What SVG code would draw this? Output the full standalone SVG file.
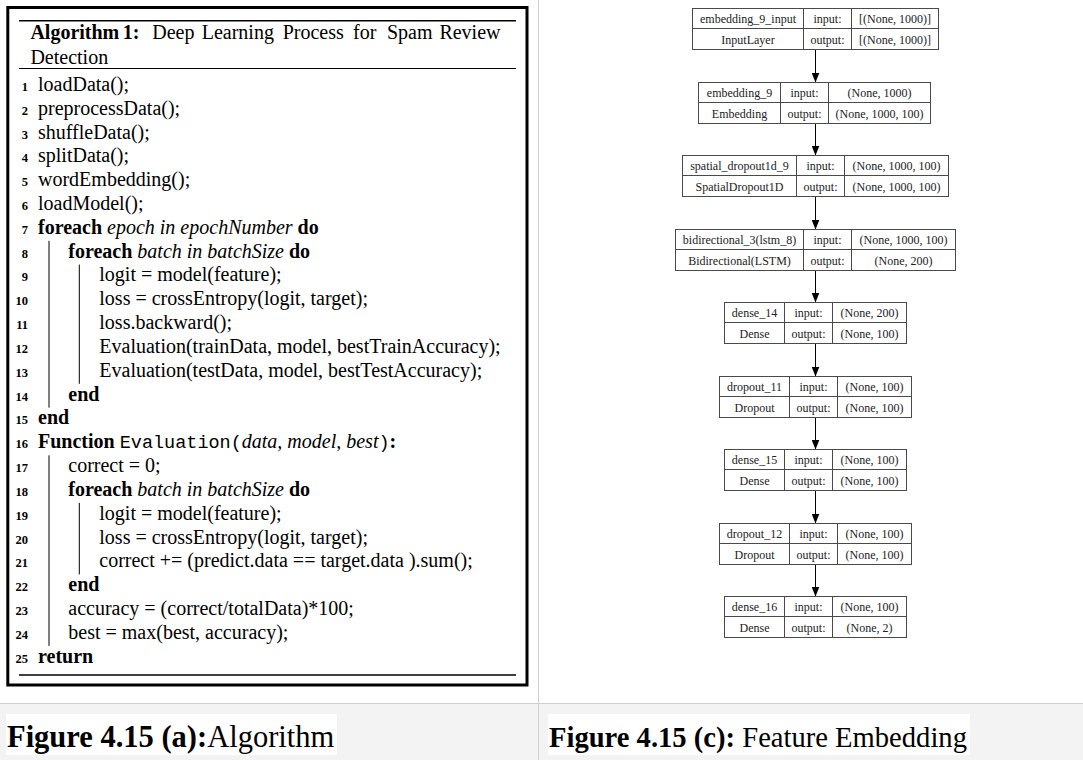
<svg xmlns="http://www.w3.org/2000/svg" width="1083" height="760" viewBox="0 0 1083 760">
  <style>
    .alg { font-family: "Liberation Serif", "Times New Roman", serif; font-size: 20px; fill: #000; }
    .b { font-weight: bold; }
    .i { font-style: italic; }
    .tt { font-family: "Liberation Mono", "Courier New", monospace; font-size: 18.5px; }
    .ln { font-family: "Liberation Serif", serif; font-size: 12.5px; font-weight: bold; text-anchor: end; fill: #000; }
    .bar { stroke: #000; stroke-width: 1; fill: none; }
    .rule { stroke: #000; fill: none; }
    .cell { fill: #fff; stroke: #4a4a4a; stroke-width: 1; }
    .sep { stroke: #4a4a4a; stroke-width: 1; fill: none; }
    .nt { font-family: "Liberation Serif", "Times New Roman", serif; font-size: 12px; fill: #222; text-anchor: middle; }
    .edge { stroke: #000; stroke-width: 1; fill: none; }
    .cap { font-family: "Liberation Serif", "Times New Roman", serif; fill: #000; }
    .frame { stroke: #d0d0d0; stroke-width: 1; fill: none; }
  </style>
  <defs>
    <marker id="arrow" markerUnits="userSpaceOnUse" markerWidth="10" markerHeight="8" refX="10" refY="4" orient="auto">
      <path d="M0,0 L10,4 L0,8 z" fill="#000"/>
    </marker>
  </defs>

  <!-- page background and panel frame -->
  <rect x="0" y="0" width="1083" height="760" fill="#fff"/>
  <rect x="0" y="704" width="1083" height="56" fill="#f3f3f3"/>
  <line class="frame" x1="538.5" y1="0" x2="538.5" y2="760"/>
  <line class="frame" x1="0" y1="703.5" x2="1083" y2="703.5"/>

  <!-- algorithm listing -->
  <g id="algorithm">
    <rect x="7.8" y="7.5" width="519.2" height="677.5" fill="none" stroke="#000" stroke-width="3"/>
    <line class="rule" x1="19" y1="20.7" x2="516" y2="20.7" stroke-width="1.5"/>
    <line class="rule" x1="19" y1="68.5" x2="516" y2="68.5" stroke-width="1.1"/>
    <line class="rule" x1="19" y1="675" x2="516" y2="675" stroke-width="1.5"/>

    <text class="alg" y="39.3"><tspan class="b" x="30.4">Algorithm</tspan><tspan class="b" x="122.8">1:</tspan><tspan x="152.2">Deep</tspan><tspan x="201.7">Learning</tspan><tspan x="282.7">Process</tspan><tspan x="353">for</tspan><tspan x="386.9">Spam</tspan><tspan x="439.4">Review</tspan></text>
    <text class="alg" x="30.4" y="64">Detection</text>

    <!-- block bars -->
    <line class="bar" x1="49" y1="240.8" x2="49" y2="407.6"/>
    <line class="bar" x1="79.3" y1="264.6" x2="79.3" y2="383.8"/>
    <line class="bar" x1="49" y1="455.3" x2="49" y2="645.9"/>
    <line class="bar" x1="79.3" y1="502.9" x2="79.3" y2="574.4"/>

    <!-- line numbers -->
    <text class="ln" x="28" y="90.8">1</text>
    <text class="ln" x="28" y="114.6">2</text>
    <text class="ln" x="28" y="138.5">3</text>
    <text class="ln" x="28" y="162.3">4</text>
    <text class="ln" x="28" y="186.1">5</text>
    <text class="ln" x="28" y="210">6</text>
    <text class="ln" x="28" y="233.8">7</text>
    <text class="ln" x="28" y="257.6">8</text>
    <text class="ln" x="28" y="281.4">9</text>
    <text class="ln" x="28" y="305.3">10</text>
    <text class="ln" x="28" y="329.1">11</text>
    <text class="ln" x="28" y="352.9">12</text>
    <text class="ln" x="28" y="376.8">13</text>
    <text class="ln" x="28" y="400.6">14</text>
    <text class="ln" x="28" y="424.4">15</text>
    <text class="ln" x="28" y="448.3">16</text>
    <text class="ln" x="28" y="472.1">17</text>
    <text class="ln" x="28" y="495.9">18</text>
    <text class="ln" x="28" y="519.7">19</text>
    <text class="ln" x="28" y="543.6">20</text>
    <text class="ln" x="28" y="567.4">21</text>
    <text class="ln" x="28" y="591.2">22</text>
    <text class="ln" x="28" y="615.1">23</text>
    <text class="ln" x="28" y="638.9">24</text>
    <text class="ln" x="28" y="662.7">25</text>

    <!-- statements -->
    <text class="alg" x="38" y="90.8">loadData();</text>
    <text class="alg" x="38" y="114.6">preprocessData();</text>
    <text class="alg" x="38" y="138.5">shuffleData();</text>
    <text class="alg" x="38" y="162.3">splitData();</text>
    <text class="alg" x="38" y="186.1">wordEmbedding();</text>
    <text class="alg" x="38" y="210">loadModel();</text>
    <text class="alg" x="38" y="233.8"><tspan class="b">foreach</tspan> <tspan class="i">epoch in epochNumber</tspan> <tspan class="b">do</tspan></text>
    <text class="alg" x="68.3" y="257.6"><tspan class="b">foreach</tspan> <tspan class="i">batch in batchSize</tspan> <tspan class="b">do</tspan></text>
    <text class="alg" x="99.3" y="281.4">logit = model(feature);</text>
    <text class="alg" x="99.3" y="305.3">loss = crossEntropy(logit, target);</text>
    <text class="alg" x="99.3" y="329.1">loss.backward();</text>
    <text class="alg" x="99.3" y="352.9">Evaluation(trainData, model, bestTrainAccuracy);</text>
    <text class="alg" x="99.3" y="376.8">Evaluation(testData, model, bestTestAccuracy);</text>
    <text class="alg b" x="68.3" y="400.6">end</text>
    <text class="alg b" x="38" y="424.4">end</text>
    <text class="alg" x="38" y="448.3"><tspan class="b">Function</tspan> <tspan class="tt">Evaluation(</tspan><tspan class="i">data, model, best</tspan><tspan class="tt">)</tspan><tspan class="b">:</tspan></text>
    <text class="alg" x="68.3" y="472.1">correct = 0;</text>
    <text class="alg" x="68.3" y="495.9"><tspan class="b">foreach</tspan> <tspan class="i">batch in batchSize</tspan> <tspan class="b">do</tspan></text>
    <text class="alg" x="99.3" y="519.7">logit = model(feature);</text>
    <text class="alg" x="99.3" y="543.6">loss = crossEntropy(logit, target);</text>
    <text class="alg" x="99.3" y="567.4">correct += (predict.data == target.data ).sum();</text>
    <text class="alg b" x="68.3" y="591.2">end</text>
    <text class="alg" x="68.3" y="615.1">accuracy = (correct/totalData)*100;</text>
    <text class="alg" x="68.3" y="638.9">best = max(best, accuracy);</text>
    <text class="alg b" x="38" y="662.7">return</text>
  </g>

  <!-- connectors between layers -->
  <g id="connectors">
    <line class="edge" x1="815.5" y1="49.5" x2="815.5" y2="82.5" marker-end="url(#arrow)"/>
    <line class="edge" x1="815.5" y1="123.5" x2="815.5" y2="155.5" marker-end="url(#arrow)"/>
    <line class="edge" x1="815.5" y1="196.5" x2="815.5" y2="229.5" marker-end="url(#arrow)"/>
    <line class="edge" x1="815.5" y1="270.5" x2="815.5" y2="302.5" marker-end="url(#arrow)"/>
    <line class="edge" x1="815.5" y1="343.5" x2="815.5" y2="376.5" marker-end="url(#arrow)"/>
    <line class="edge" x1="815.5" y1="417.5" x2="815.5" y2="449.5" marker-end="url(#arrow)"/>
    <line class="edge" x1="815.5" y1="490.5" x2="815.5" y2="523.5" marker-end="url(#arrow)"/>
    <line class="edge" x1="815.5" y1="564.5" x2="815.5" y2="596.5" marker-end="url(#arrow)"/>
  </g>

  <!-- layer nodes -->
  <g id="embedding_9_input">
    <rect class="cell" x="692.5" y="8.5" width="246" height="41"/>
    <path class="sep" d="M692.5,28.5 H938.5 M803.5,8.5 V49.5 M851.5,8.5 V49.5"/>
    <text class="nt" x="748" y="23">embedding_9_input</text>
    <text class="nt" x="748" y="43.5">InputLayer</text>
    <text class="nt" x="827.5" y="23">input:</text>
    <text class="nt" x="827.5" y="43.5">output:</text>
    <text class="nt" x="895" y="23">[(None, 1000)]</text>
    <text class="nt" x="895" y="43.5">[(None, 1000)]</text>
  </g>

  <g id="embedding_9">
    <rect class="cell" x="698.5" y="82.5" width="232" height="41"/>
    <path class="sep" d="M698.5,102.5 H930.5 M780.5,82.5 V123.5 M828.5,82.5 V123.5"/>
    <text class="nt" x="739.5" y="97">embedding_9</text>
    <text class="nt" x="739.5" y="117.5">Embedding</text>
    <text class="nt" x="804.5" y="97">input:</text>
    <text class="nt" x="804.5" y="117.5">output:</text>
    <text class="nt" x="879.5" y="97">(None, 1000)</text>
    <text class="nt" x="879.5" y="117.5">(None, 1000, 100)</text>
  </g>

  <g id="spatial_dropout1d_9">
    <rect class="cell" x="682.5" y="155.5" width="266" height="41"/>
    <path class="sep" d="M682.5,175.5 H948.5 M796.5,155.5 V196.5 M844.5,155.5 V196.5"/>
    <text class="nt" x="739.5" y="170">spatial_dropout1d_9</text>
    <text class="nt" x="739.5" y="190.5">SpatialDropout1D</text>
    <text class="nt" x="820.5" y="170">input:</text>
    <text class="nt" x="820.5" y="190.5">output:</text>
    <text class="nt" x="896.5" y="170">(None, 1000, 100)</text>
    <text class="nt" x="896.5" y="190.5">(None, 1000, 100)</text>
  </g>

  <g id="bidirectional_3">
    <rect class="cell" x="675.5" y="229.5" width="280" height="41"/>
    <path class="sep" d="M675.5,249.5 H955.5 M803.5,229.5 V270.5 M851.5,229.5 V270.5"/>
    <text class="nt" x="739.5" y="244">bidirectional_3(lstm_8)</text>
    <text class="nt" x="739.5" y="264.5">Bidirectional(LSTM)</text>
    <text class="nt" x="827.5" y="244">input:</text>
    <text class="nt" x="827.5" y="264.5">output:</text>
    <text class="nt" x="903.5" y="244">(None, 1000, 100)</text>
    <text class="nt" x="903.5" y="264.5">(None, 200)</text>
  </g>

  <g id="dense_14">
    <rect class="cell" x="724.5" y="302.5" width="182" height="41"/>
    <path class="sep" d="M724.5,322.5 H906.5 M784.5,302.5 V343.5 M832.5,302.5 V343.5"/>
    <text class="nt" x="754.5" y="317">dense_14</text>
    <text class="nt" x="754.5" y="337.5">Dense</text>
    <text class="nt" x="808.5" y="317">input:</text>
    <text class="nt" x="808.5" y="337.5">output:</text>
    <text class="nt" x="869.5" y="317">(None, 200)</text>
    <text class="nt" x="869.5" y="337.5">(None, 100)</text>
  </g>

  <g id="dropout_11">
    <rect class="cell" x="719.5" y="376.5" width="192" height="41"/>
    <path class="sep" d="M719.5,396.5 H911.5 M789.5,376.5 V417.5 M837.5,376.5 V417.5"/>
    <text class="nt" x="754.5" y="391">dropout_11</text>
    <text class="nt" x="754.5" y="411.5">Dropout</text>
    <text class="nt" x="813.5" y="391">input:</text>
    <text class="nt" x="813.5" y="411.5">output:</text>
    <text class="nt" x="874.5" y="391">(None, 100)</text>
    <text class="nt" x="874.5" y="411.5">(None, 100)</text>
  </g>

  <g id="dense_15">
    <rect class="cell" x="724.5" y="449.5" width="182" height="41"/>
    <path class="sep" d="M724.5,469.5 H906.5 M784.5,449.5 V490.5 M832.5,449.5 V490.5"/>
    <text class="nt" x="754.5" y="464">dense_15</text>
    <text class="nt" x="754.5" y="484.5">Dense</text>
    <text class="nt" x="808.5" y="464">input:</text>
    <text class="nt" x="808.5" y="484.5">output:</text>
    <text class="nt" x="869.5" y="464">(None, 100)</text>
    <text class="nt" x="869.5" y="484.5">(None, 100)</text>
  </g>

  <g id="dropout_12">
    <rect class="cell" x="719.5" y="523.5" width="192" height="41"/>
    <path class="sep" d="M719.5,543.5 H911.5 M789.5,523.5 V564.5 M837.5,523.5 V564.5"/>
    <text class="nt" x="754.5" y="538">dropout_12</text>
    <text class="nt" x="754.5" y="558.5">Dropout</text>
    <text class="nt" x="813.5" y="538">input:</text>
    <text class="nt" x="813.5" y="558.5">output:</text>
    <text class="nt" x="874.5" y="538">(None, 100)</text>
    <text class="nt" x="874.5" y="558.5">(None, 100)</text>
  </g>

  <g id="dense_16">
    <rect class="cell" x="724.5" y="596.5" width="182" height="41"/>
    <path class="sep" d="M724.5,616.5 H906.5 M784.5,596.5 V637.5 M832.5,596.5 V637.5"/>
    <text class="nt" x="754.5" y="611">dense_16</text>
    <text class="nt" x="754.5" y="631.5">Dense</text>
    <text class="nt" x="808.5" y="611">input:</text>
    <text class="nt" x="808.5" y="631.5">output:</text>
    <text class="nt" x="869.5" y="611">(None, 100)</text>
    <text class="nt" x="869.5" y="631.5">(None, 2)</text>
  </g>

  <!-- captions -->
  <g id="caption_a">
    <rect x="6" y="714" width="331" height="41" fill="#fff"/>
    <text class="cap" x="7" y="747" font-size="30.5"><tspan class="b">Figure 4.15 (a):</tspan>Algorithm</text>
  </g>
  <g id="caption_c">
    <rect x="548" y="714" width="422" height="41" fill="#fff"/>
    <text class="cap" x="549" y="747" font-size="28.6"><tspan class="b">Figure 4.15 (c):</tspan> Feature Embedding</text>
  </g>
</svg>
